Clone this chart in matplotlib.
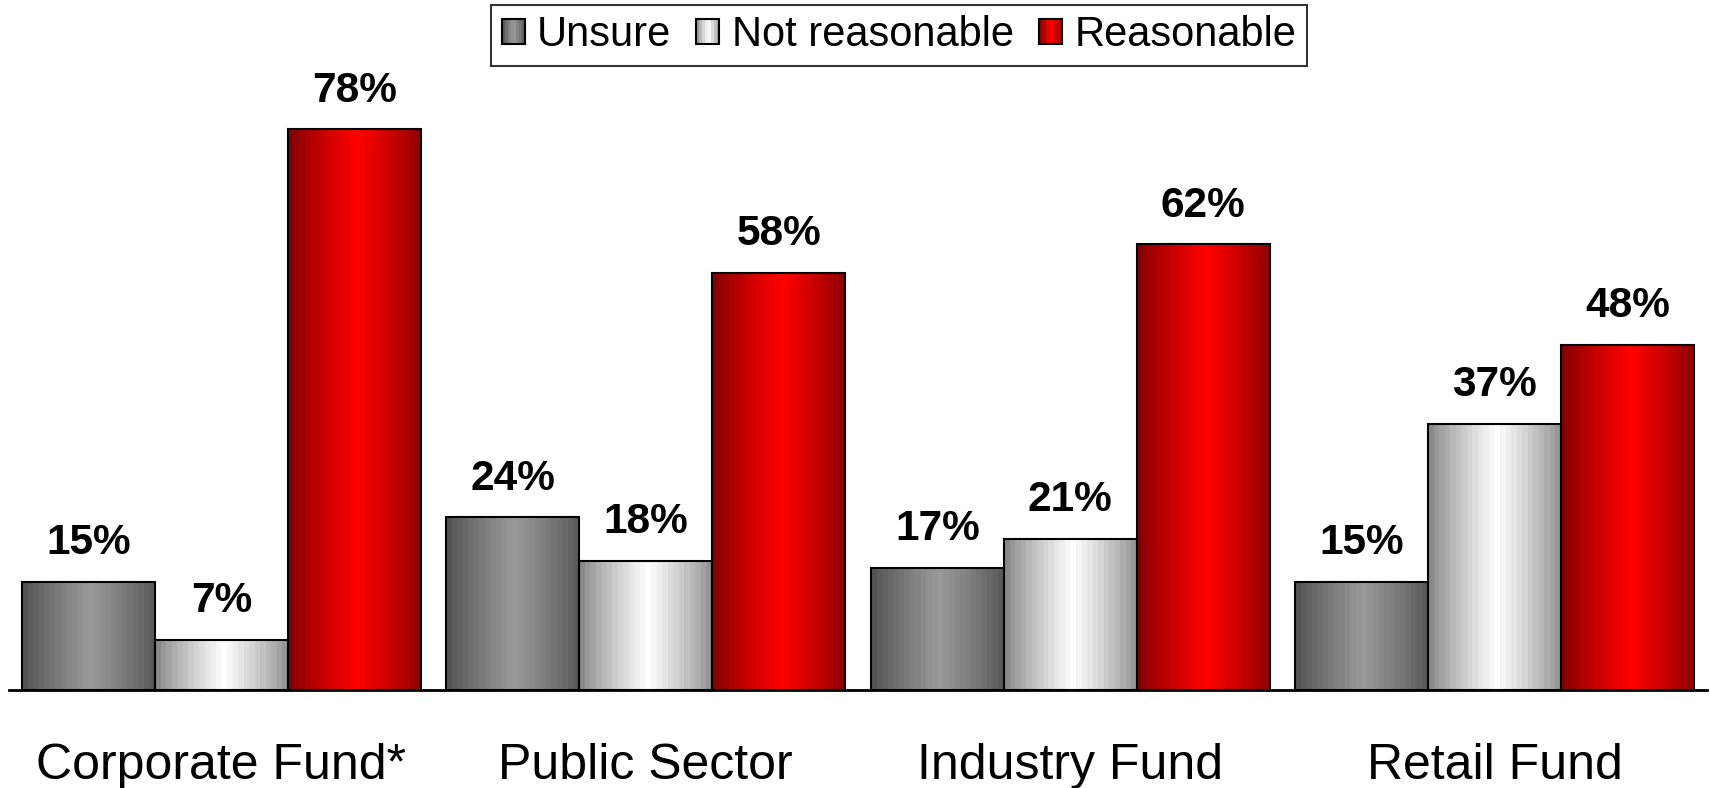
import numpy as np
import matplotlib
matplotlib.use("Agg")
import matplotlib.pyplot as plt
from matplotlib.patches import Patch, Rectangle
from matplotlib.colors import to_rgb
from matplotlib.legend_handler import HandlerBase

# data
categories = ["Corporate Fund*", "Public Sector", "Industry Fund", "Retail Fund"]
series_names = ["Unsure", "Not reasonable", "Reasonable"]
unsure = [15, 24, 17, 15]
not_reasonable = [7, 18, 21, 37]
reasonable = [78, 58, 62, 48]

# (edge colour, centre colour) for the horizontal gradients
edge_cols = ["#4d4d4d", "#808080", "#7a0000"]
mid_cols = ["#9a9a9a", "#ffffff", "#ff0000"]

plt.rcParams["font.family"] = ["Liberation Sans", "DejaVu Sans"]


def gradient_row(edge, mid, n=24):
    e = np.array(to_rgb(edge))
    m = np.array(to_rgb(mid))
    t = (np.arange(n) + 0.5) / n
    # light peak a little right of centre, banded like the original
    w = 1 - np.abs(t - 0.52) / 0.52
    w = np.clip(w, 0, 1) ** 0.8
    return (e[None, :] * (1 - w[:, None]) + m[None, :] * w[:, None])[None, :, :]


class GradHandler(HandlerBase):
    def __init__(self, edge, mid):
        super().__init__()
        self.row = gradient_row(edge, mid, n=8)[0]

    def create_artists(self, legend, orig_handle, xdescent, ydescent,
                       width, height, fontsize, trans):
        n = len(self.row)
        arts = []
        for i, c in enumerate(self.row):
            arts.append(Rectangle((-xdescent + i * width / n, -ydescent), width / n, height,
                                  facecolor=c, edgecolor="none", transform=trans))
        arts.append(Rectangle((-xdescent, -ydescent), width, height, fill=False,
                              edgecolor="black", lw=1.5, transform=trans))
        return arts


fig = plt.figure(figsize=(17.1, 7.88), dpi=100)
ax = fig.add_axes([9 / 1710, 98 / 788, 1698 / 1710, 647 / 788])

x = np.arange(len(categories))
bw = 0.313
all_series = [unsure, not_reasonable, reasonable]

for k, vals in enumerate(all_series):
    bars = ax.bar(x + (k - 1) * bw, vals, bw, facecolor="none",
                  edgecolor="black", linewidth=1.5, zorder=3)
    grad = gradient_row(edge_cols[k], mid_cols[k])
    for b, v in zip(bars, vals):
        bx, by = b.get_x(), b.get_y()
        im = ax.imshow(grad, extent=[bx, bx + b.get_width(), by, by + b.get_height()],
                       aspect="auto", interpolation="nearest", zorder=2)
        im.set_clip_path(b)
        ax.text(b.get_x() + b.get_width() / 2, v + 2.6, f"{v}%", ha="center", va="bottom",
                fontsize=30.5, fontweight="bold", zorder=4)

ax.set_xlim(-0.5, len(categories) - 0.5)
ax.set_ylim(0, 90)
ax.set_xticks(x)
ax.set_xticklabels(categories, fontsize=36)
ax.tick_params(axis="x", length=0, pad=38)
ax.set_yticks([])
for s in ["top", "left", "right"]:
    ax.spines[s].set_visible(False)
ax.spines["bottom"].set_linewidth(2)

handles = [Patch(label=n) for n in series_names]
hmap = {h: GradHandler(edge_cols[k], mid_cols[k]) for k, h in enumerate(handles)}
leg = fig.legend(handles=handles, handler_map=hmap, loc="upper center",
                 bbox_to_anchor=(899 / 1710, 1 - 5 / 788), ncol=3, fontsize=30,
                 frameon=True, fancybox=False, shadow=False,
                 handlelength=0.55, handleheight=0.55, handletextpad=0.3,
                 columnspacing=0.6, borderpad=0.25, borderaxespad=0)
leg.get_frame().set_edgecolor("black")
leg.get_frame().set_linewidth(1.5)

fig.savefig("out.png", dpi=100)
